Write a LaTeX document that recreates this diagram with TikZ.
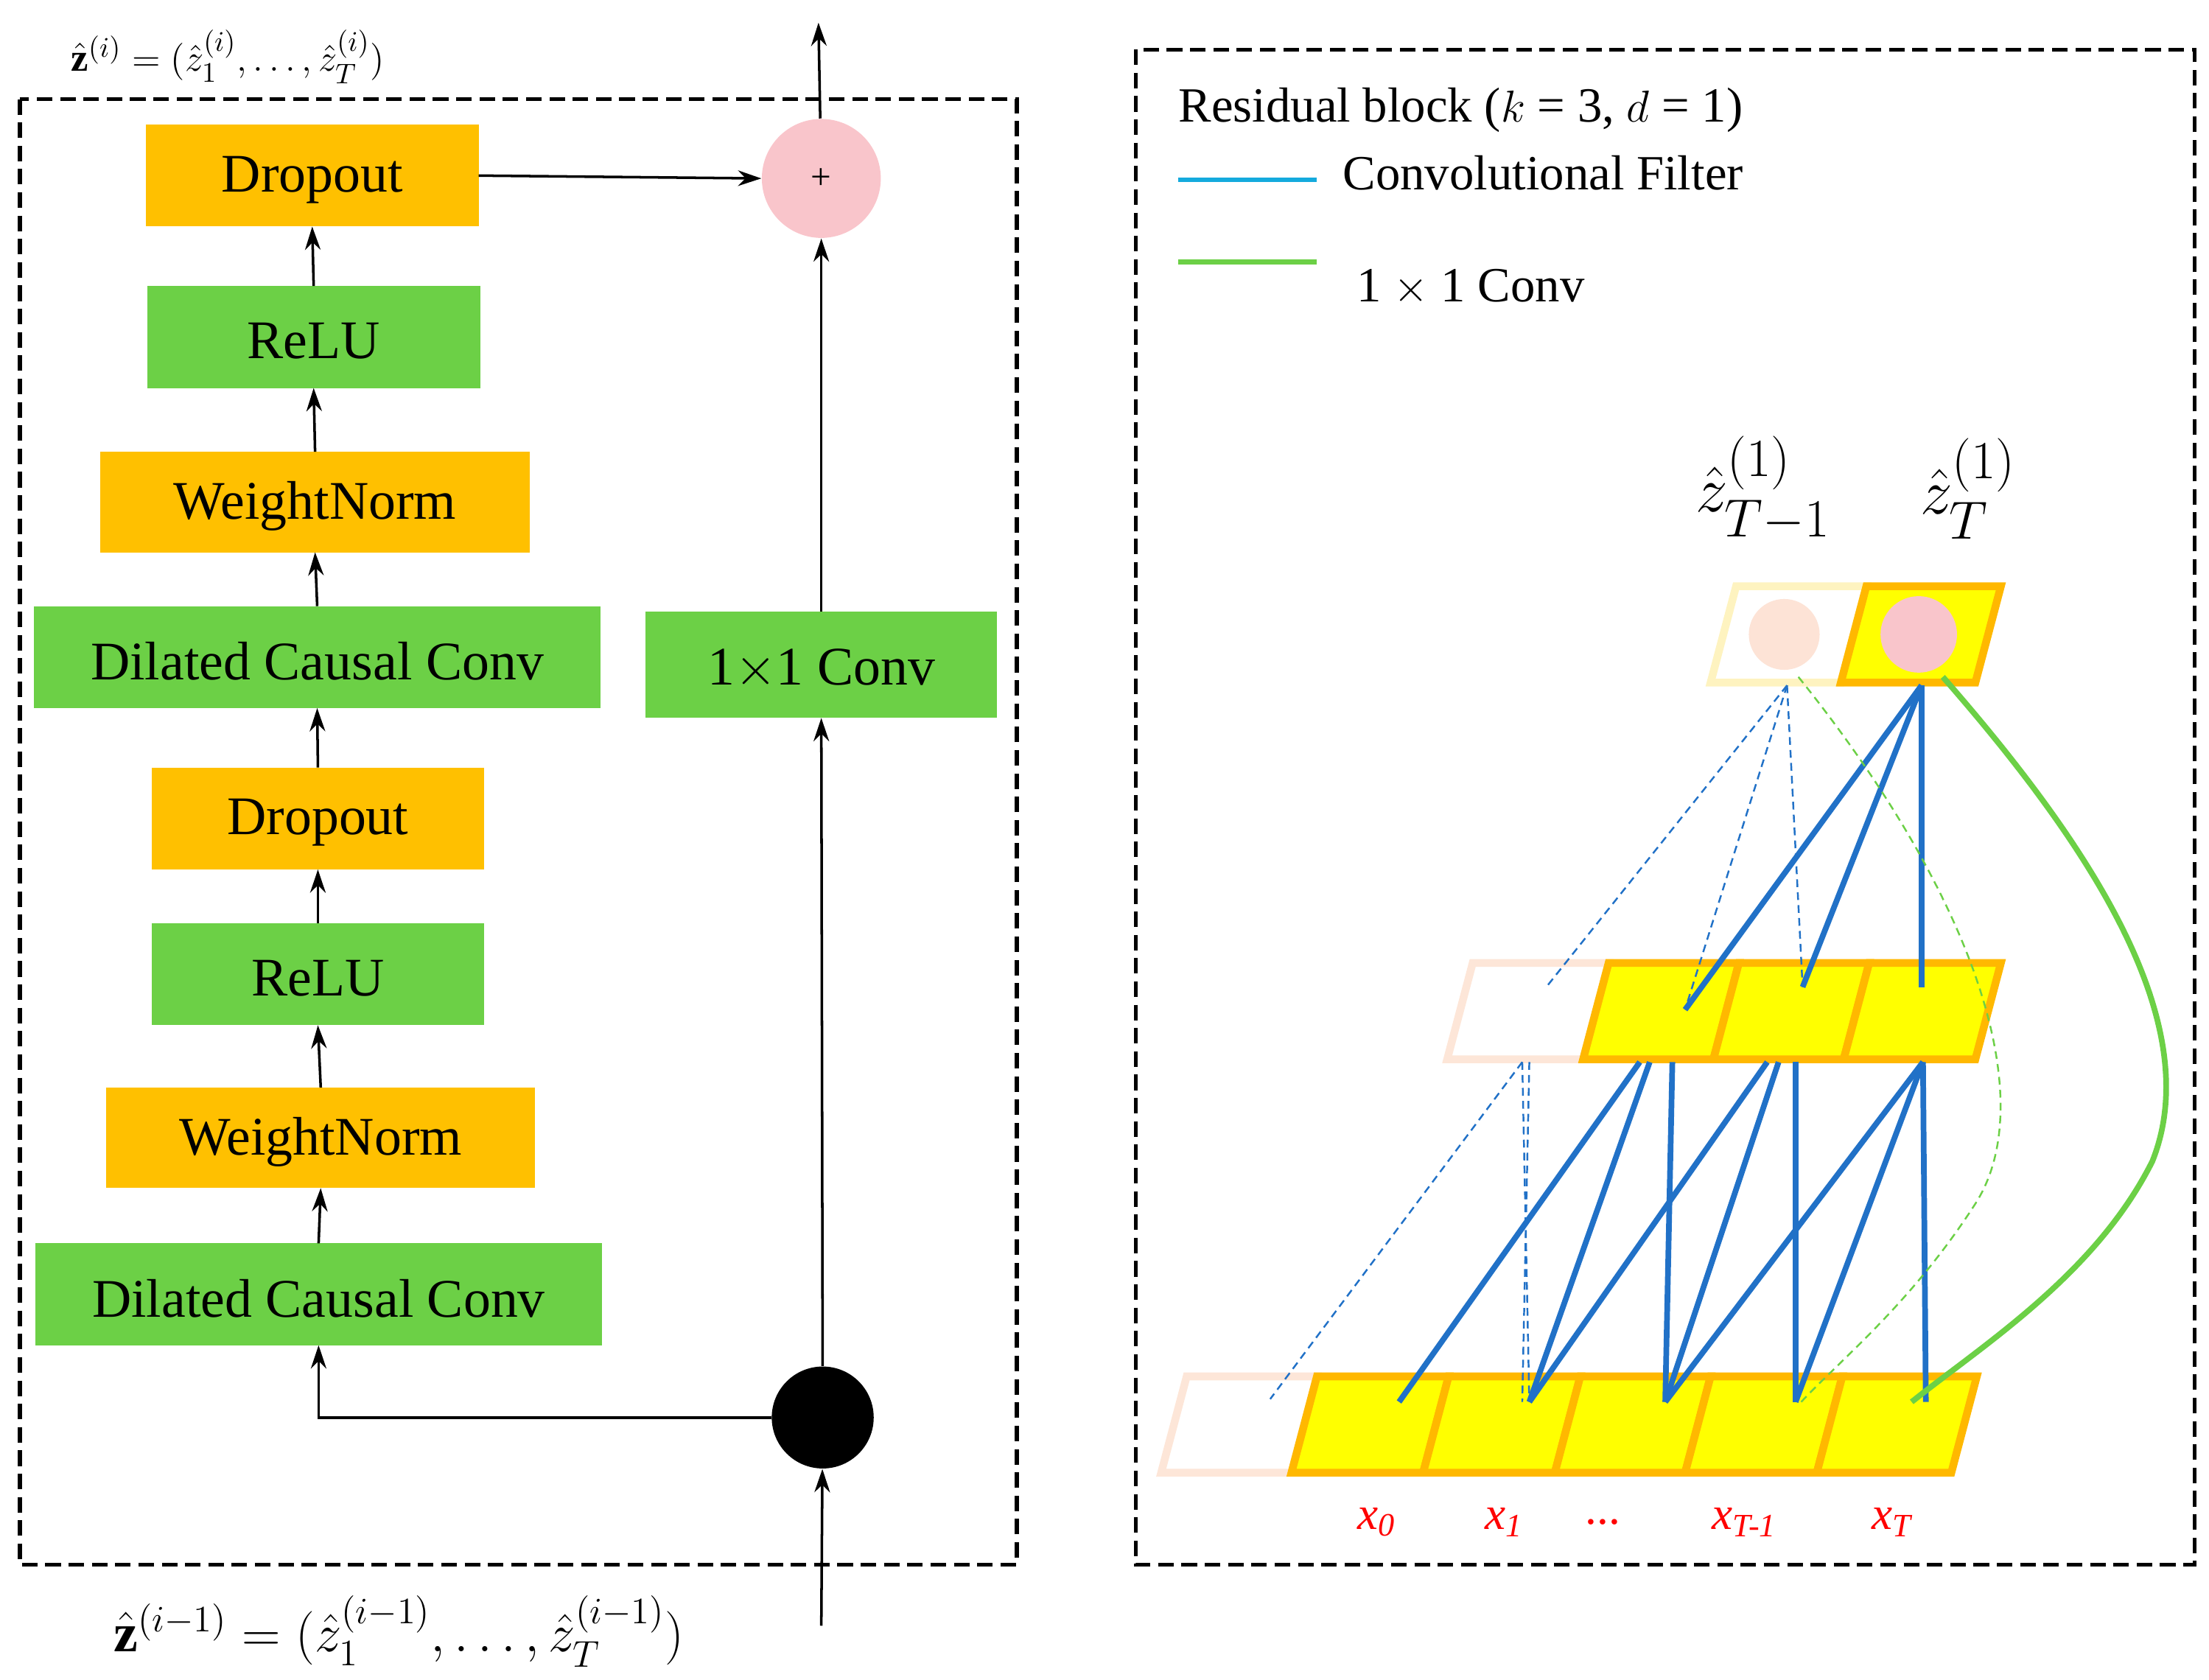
\documentclass[tikz,border=0pt]{standalone}
\usepackage{fontspec}
\setmainfont{Liberation Serif}
\usepackage{amsmath,bm}
\usetikzlibrary{arrows.meta}
\definecolor{org}{HTML}{FFC000}
\definecolor{grn}{HTML}{6CD046}
\definecolor{pk}{HTML}{F9C5CB}
\definecolor{pch}{HTML}{FDE3D6}
\definecolor{blu}{HTML}{2171C7}
\definecolor{yel}{HTML}{FFFF00}
\definecolor{ybd}{HTML}{FFB800}
\definecolor{pbd}{HTML}{FDE6D8}
\newcommand\rcell[6]{\fill[#5,draw=#6,line width=3pt] (#1,#3)--(#2,#3)--++(18,-68)--(#1+18,#3-68)--cycle;}
\begin{document}
\begin{tikzpicture}[x=0.01922cm,y=-0.01922cm,
 ar/.style={-{Stealth[length=9pt,width=6pt]},line width=1pt},
 bl/.style={blu,line width=2.2pt},
 bd/.style={blu,line width=0.7pt,dash pattern=on 3pt off 2pt},
 lbl/.style={red,font=\fontsize{18}{20}\selectfont\itshape}]
\useasboundingbox (0,0) rectangle (1560,1186);
% left box
\draw[line width=1.5pt,dash pattern=on 6pt off 3pt] (14,70) rectangle (718,1105);
\newcommand\B[7]{\path[fill=#5] (#1,#2) rectangle (#3,#4); \node[font=\fontsize{21}{24}\selectfont,inner sep=0] (#6) at ({(#1+#3)/2},{(#2+#4)/2+3}) {#7};
 \coordinate (#6t) at ({(#1+#3)/2},#2); \coordinate (#6b) at ({(#1+#3)/2},#4);}
\B{103}{88}{338}{160}{org}{d1}{Dropout}
\B{104}{202}{339}{274}{grn}{r1}{ReLU}
\B{71}{319}{374}{390}{org}{w1}{WeightNorm}
\B{24}{428}{424}{500}{grn}{c1}{Dilated Causal Conv}
\B{107}{542}{342}{614}{org}{d2}{Dropout}
\B{107}{652}{342}{724}{grn}{r2}{ReLU}
\B{75}{768}{378}{839}{org}{w2}{WeightNorm}
\B{25}{878}{425}{950}{grn}{c2}{Dilated Causal Conv}
\B{456}{432}{704}{507}{grn}{cv}{1$\times$1 Conv}
\node[circle,fill=pk,minimum size=84*0.01922cm,inner sep=0] (plus) at (580,126) {\fontsize{14}{14}\selectfont +};
\node[circle,fill=black,minimum size=72*0.01922cm,inner sep=0] (dot) at (581,1001) {};
\coordinate (in) at (580,1148); \coordinate (out) at (578,16);
\draw[ar] (in) -- (dot);
\draw[ar] (dot) -- (cvb);
\draw[ar] (cvt) -- (plus);
\draw[ar] (plus) -- (out);
\draw[ar] (dot.west) -| (c2b);
\draw[ar] (c2t) -- (w2b);
\draw[ar] (w2t) -- (r2b);
\draw[ar] (r2t) -- (d2b);
\draw[ar] (d2t) -- (c1b);
\draw[ar] (c1t) -- (w1b);
\draw[ar] (w1t) -- (r1b);
\draw[ar] (r1t) -- (d1b);
\draw[ar] (338,124) -- (plus.west);
\node[anchor=west,inner sep=0,font=\fontsize{15}{18}\selectfont] (tl) at (50,40) {$\hat{\mathbf z}^{(i)}=(\hat z_1^{(i)},\dots,\hat z_T^{(i)})$};
\node[anchor=west,inner sep=0,font=\fontsize{21}{24}\selectfont] (bl) at (80,1152) {$\hat{\mathbf z}^{(i-1)}=(\hat z_1^{(i-1)},\dots,\hat z_T^{(i-1)})$};
% right box
\draw[line width=1.5pt,dash pattern=on 6pt off 3pt] (802,35) rectangle (1550,1105);
\node[anchor=west,inner sep=0,font=\fontsize{19}{22}\selectfont] (t1) at (832,78) {Residual block ($k$ = 3, $d$ = 1)};
\coordinate (lb1) at (832,127); \coordinate (lb2) at (930,127);
\draw[blu!60!cyan,line width=1.8pt] (lb1) -- (lb2);
\node[anchor=west,inner sep=0,font=\fontsize{19}{22}\selectfont] (t2) at (948,122) {Convolutional Filter};
\coordinate (lg1) at (832,185); \coordinate (lg2) at (930,185);
\draw[grn,line width=1.8pt] (lg1) -- (lg2);
\node[anchor=west,inner sep=0,font=\fontsize{19}{22}\selectfont] (t3) at (958,203) {1 $\times$ 1 Conv};
% cells
\rcell{820}{912}{1040}{}{white}{pbd}
\rcell{912}{1005}{1040}{}{yel}{ybd}
\rcell{1005}{1098}{1040}{}{yel}{ybd}
\rcell{1098}{1190}{1040}{}{yel}{ybd}
\rcell{1190}{1283}{1040}{}{yel}{ybd}
\rcell{1283}{1378}{1040}{}{yel}{ybd}
\rcell{1022}{1118}{748}{}{white}{pbd}
\rcell{1118}{1210}{748}{}{yel}{ybd}
\rcell{1210}{1302}{748}{}{yel}{ybd}
\rcell{1302}{1395}{748}{}{yel}{ybd}
\rcell{1208}{1300}{482}{}{white}{pch!70!yellow!60}
\rcell{1300}{1395}{482}{}{yel}{ybd}
\node[circle,fill=pch,minimum size=50*0.01922cm,inner sep=0] (ca) at (1260,448) {};
\node[circle,fill=pk,minimum size=54*0.01922cm,inner sep=0] (cb) at (1355,448) {};
% points
\coordinate (b0) at (988,990); \coordinate (b1) at (1080,990); \coordinate (b2) at (1176,990);
\coordinate (b3) at (1268,990); \coordinate (b4) at (1360,990); \coordinate (bw) at (897,988);
\coordinate (m0) at (1158,750); \coordinate (m0b) at (1165,750); \coordinate (m1) at (1181,750);
\coordinate (m2) at (1248,750); \coordinate (m2b) at (1256,750); \coordinate (m3) at (1268,750);
\coordinate (m4) at (1358,750); \coordinate (mw) at (1075,750);
\coordinate (u1) at (1190,713); \coordinate (u2) at (1273,697); \coordinate (u3) at (1357,697); \coordinate (uw) at (1092,697);
\coordinate (tb) at (1357,484); \coordinate (ta) at (1262,484);
\draw[bl] (b0)--(m0); \draw[bl] (b1)--(m0b); \draw[bl] (b1)--(m2);
\draw[bl] (b2)--(m1); \draw[bl] (b2)--(m2b); \draw[bl] (b2)--(m4);
\draw[bl] (b3)--(m3); \draw[bl] (b3)--(m4); \draw[bl] (b4)--(m4);
\draw[bd] (mw)--(bw); \draw[bd] (mw)--(b1); \draw[bd] (1080,750)--(1075,990);
\draw[bl] (tb)--(u1); \draw[bl] (tb)--(u2); \draw[bl] (tb)--(u3);
\draw[bd] (ta)--(uw); \draw[bd] (ta)--(u1); \draw[bd] (ta)--(u2);
\draw[grn,line width=0.7pt,dash pattern=on 3pt off 2pt] (1270,478) .. controls (1400,640) and (1440,780) .. (1395,850) .. controls (1350,920) and (1300,960) .. (1272,990);
\draw[grn,line width=2.2pt] (1372,478) .. controls (1470,590) and (1560,720) .. (1520,820) .. controls (1480,900) and (1400,950) .. (1350,990);
% labels
\node[lbl] (x0) at (972,1075) {x\textsubscript{0}};
\node[lbl] (x1) at (1062,1075) {x\textsubscript{1}};
\node[red,font=\fontsize{18}{20}\selectfont] (xd) at (1132,1075) {...};
\node[lbl] (x3) at (1232,1075) {x\textsubscript{T-1}};
\node[lbl] (x4) at (1336,1075) {x\textsubscript{T}};
\node[font=\fontsize{28}{30}\selectfont] (z1) at (1245,345) {$\hat z^{(1)}_{T-1}$};
\node[font=\fontsize{28}{30}\selectfont] (z2) at (1390,345) {$\hat z^{(1)}_{T}$};
\end{tikzpicture}
\end{document}
